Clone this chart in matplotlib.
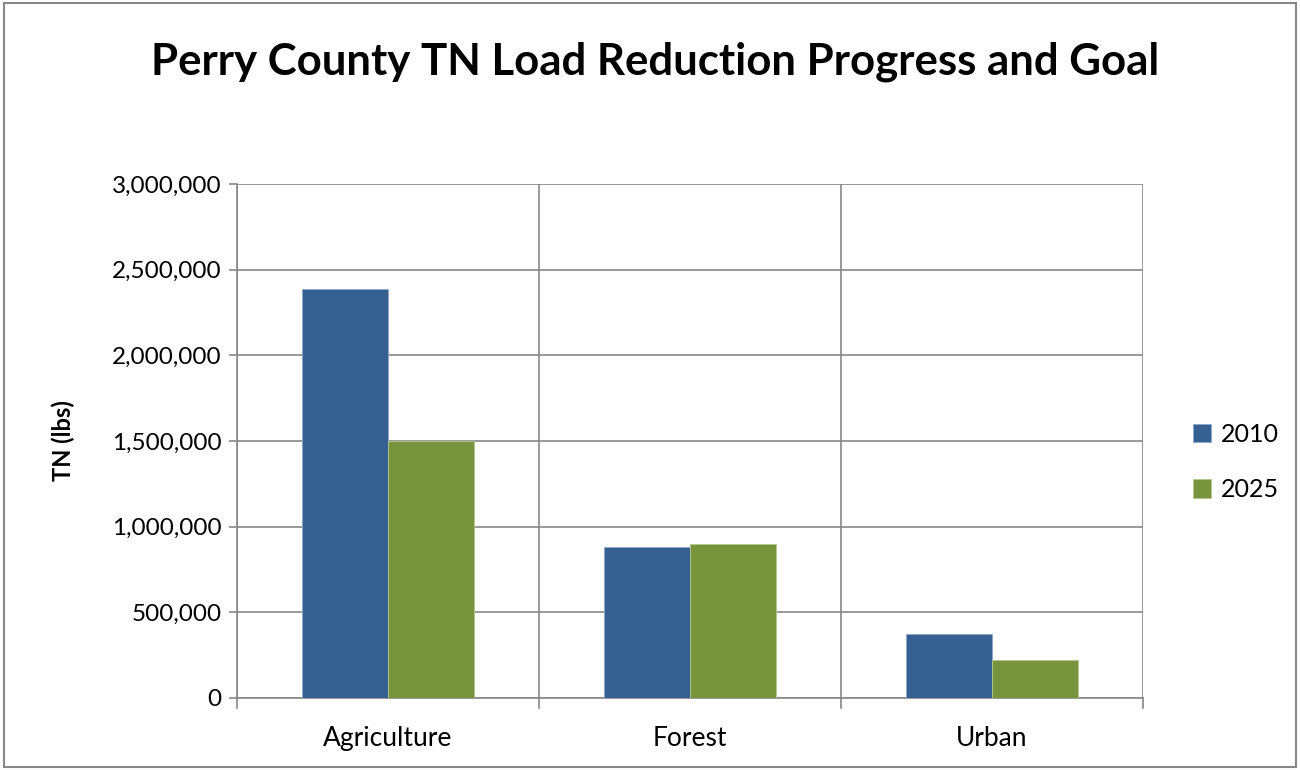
import matplotlib
matplotlib.use("Agg")
import matplotlib.pyplot as plt
import numpy as np
from matplotlib.patches import Rectangle
from matplotlib.ticker import FuncFormatter, MultipleLocator

categories = ["Agriculture", "Forest", "Urban"]
series_names = ["2010", "2025"]
values_2010 = [2387000, 880000, 373000]
values_2025 = [1500000, 899000, 222000]
colors = ["#376092", "#77933C"]

plt.rcParams['font.family'] = ['Lato', 'DejaVu Sans']

fig = plt.figure(figsize=(13, 7.7), dpi=100)
ax = fig.add_axes([237/1300, 1-698/770, (1143-237)/1300, (698-184)/770])

x = np.arange(len(categories))
w = 1/3.5
ax.bar(x - w/2, values_2010, w, color=colors[0], edgecolor="#8EA9CF", linewidth=0.6, label=series_names[0], zorder=3)
ax.bar(x + w/2, values_2025, w, color=colors[1], edgecolor="#B3C78F", linewidth=0.6, label=series_names[1], zorder=3)

ax.set_xlim(-0.5, len(categories) - 0.5)
ax.set_ylim(0, 3000000)
ax.yaxis.set_major_locator(MultipleLocator(500000))
ax.yaxis.set_major_formatter(FuncFormatter(lambda v, p: f"{int(v):,}"))
ax.set_xticks(x)
ax.set_xticklabels(categories)
ax.tick_params(axis='x', length=0, labelsize=19, pad=20)
ax.tick_params(axis='y', length=6, width=1.2, color="#888888", labelsize=17.5, pad=5, direction='out')
for b in np.arange(-0.5, len(categories), 1.0):
    ax.axvline(b, color="#888888", lw=1.2, zorder=1)
    ax.plot([b, b], [0, -0.02], transform=ax.get_xaxis_transform(), color="#888888", lw=1.2, clip_on=False)
ax.grid(axis='y', color="#888888", lw=1.2, zorder=1)
for s in ["top", "right"]:
    ax.spines[s].set_visible(False)
for s in ["left", "bottom"]:
    ax.spines[s].set_color("#888888")
    ax.spines[s].set_linewidth(1.2)

ax.set_ylabel("TN (lbs)", fontsize=17, fontweight='bold', labelpad=27)

fig.text(655/1300, 1-62/770, "Perry County TN Load Reduction Progress and Goal",
         ha='center', va='center', fontsize=31.5, fontweight='bold')

fig.legend(loc='center left', bbox_to_anchor=(1170/1300, 1-462/770), frameon=False,
           fontsize=18, handlelength=0.75, handleheight=0.75, labelspacing=1.3, handletextpad=0.4)

fig.patches.append(Rectangle((0.003, 0.004), 0.994, 0.992, transform=fig.transFigure,
                             fill=False, edgecolor="#888888", lw=1.5))

fig.savefig("out.png", dpi=100, facecolor="white")
